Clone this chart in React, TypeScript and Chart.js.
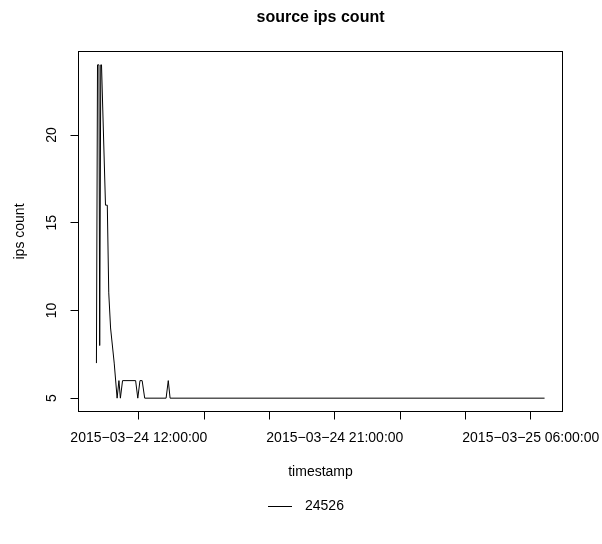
import React, { useEffect, useRef } from 'react';
import { Chart, registerables } from 'chart.js';

Chart.register(...registerables);

// ---- data (minutes since 2015-03-24 00:00:00) ----
const SERIES_LABEL = '24526';
const TIME_MINUTES = [603, 606, 610, 612, 615, 617, 628, 633, 637, 642, 652, 660, 665, 669, 675, 711, 717, 723, 729, 736, 795, 801, 806, 1838];
const IPS_COUNT = [7, 24, 24, 8, 24, 24, 16, 16, 11, 9, 7, 5, 6, 5, 6, 6, 5, 6, 6, 5, 5, 6, 5, 5];
const X_TICKS = [720, 900, 1080, 1260, 1440, 1620, 1800];
const X_TICK_LABELS = ['2015\u221203\u221224 12:00:00', '', '', '2015\u221203\u221224 21:00:00', '', '', '2015\u221203\u221225 06:00:00'];
const Y_TICKS = [5, 10, 15, 20];

const TITLE = 'source ips count';
const X_TITLE = 'timestamp';
const Y_TITLE = 'ips count';

const FONT_FAMILY = '"Liberation Sans", Arial, Helvetica, sans-serif';
const BASE_SIZE = 14;
const LEGEND_START_X = 268;

function padRange(values: number[]) {
  const lo = Math.min(...values);
  const hi = Math.max(...values);
  const p = (hi - lo) * 0.04;
  return { min: lo - p, max: hi + p };
}

export default function App() {
  const ref = useRef<HTMLCanvasElement | null>(null);

  useEffect(() => {
    if (!ref.current) return;
    const xr = padRange(TIME_MINUTES);
    const yr = padRange(IPS_COUNT);

    const legendMark = document.createElement('canvas');
    legendMark.width = 30;
    legendMark.height = 1;
    const lctx = legendMark.getContext('2d');
    if (lctx) {
      lctx.fillStyle = '#000';
      lctx.fillRect(0, 0, 24, 1);
    }

    const font = { family: FONT_FAMILY, size: BASE_SIZE };

    const boxPlugin = {
      id: 'rBox',
      afterLayout(chart: any) {
        const ca = chart.chartArea;
        const tb = chart.titleBlock;
        if (tb) {
          const d = (ca.left + ca.right) / 2 - (tb.left + tb.right) / 2;
          tb.left += d;
          tb.right += d;
        }
        const lg = chart.legend;
        if (lg && lg.lineWidths && lg.lineWidths.length) {
          const pad = lg.options.labels.padding;
          const cur = (lg.left + pad + lg.right - lg.lineWidths[0]) / 2;
          const d = LEGEND_START_X - cur;
          lg.left += d;
          lg.right += d;
        }
      },
      afterDraw(chart: any) {
        const { ctx, chartArea: ca } = chart;
        ctx.save();
        ctx.strokeStyle = '#000';
        ctx.lineWidth = 1;
        ctx.strokeRect(ca.left, ca.top, ca.right - ca.left, ca.bottom - ca.top);
        ctx.restore();
      },
    };

    const chart = new Chart(ref.current, {
      type: 'line',
      data: {
        datasets: [
          {
            label: SERIES_LABEL,
            data: TIME_MINUTES.map((t, i) => ({ x: t, y: IPS_COUNT[i] })),
            borderColor: '#000',
            backgroundColor: '#000',
            borderWidth: 1,
            pointRadius: 0,
            tension: 0,
            fill: false,
          },
        ],
      },
      options: {
        responsive: false,
        animation: false,
        devicePixelRatio: 1,
        events: [],
        layout: { padding: { left: 7.5, right: 39.5, top: 0, bottom: 20.5 } },
        plugins: {
          title: {
            display: true,
            text: TITLE,
            color: '#000',
            font: { family: FONT_FAMILY, size: 16, weight: 'bold' },
            padding: { top: 8.2, bottom: 24.1 },
          },
          legend: {
            display: true,
            position: 'bottom',
            labels: {
              usePointStyle: true,
              pointStyle: legendMark as any,
              pointStyleWidth: 30,
              color: '#000',
              font,
              padding: 10,
            },
          },
          tooltip: { enabled: false },
        },
        scales: {
          x: {
            type: 'linear',
            min: xr.min,
            max: xr.max,
            afterBuildTicks: (s: any) => {
              s.ticks = X_TICKS.map((v) => ({ value: v }));
            },
            afterFit: (s: any) => {
              s.height = 78;
              s.paddingLeft = 0;
              s.paddingRight = 0;
            },
            ticks: {
              autoSkip: false,
              maxRotation: 0,
              minRotation: 0,
              color: '#000',
              font,
              padding: 10.1,
              callback: (v: any) => {
                const i = X_TICKS.indexOf(Number(v));
                return i >= 0 ? X_TICK_LABELS[i] : '';
              },
            },
            grid: { display: true, drawOnChartArea: false, drawTicks: true, tickLength: 8, color: '#000', lineWidth: 1 },
            border: { display: false },
            title: { display: true, text: X_TITLE, color: '#000', font, padding: { top: 0, bottom: 9.1 } },
          },
          y: {
            type: 'linear',
            min: yr.min,
            max: yr.max,
            afterBuildTicks: (s: any) => {
              s.ticks = Y_TICKS.map((v) => ({ value: v }));
            },
            afterFit: (s: any) => {
              s.width = 71;
              s.paddingTop = 0;
              s.paddingBottom = 0;
            },
            ticks: {
              minRotation: 90,
              maxRotation: 90,
              crossAlign: 'center',
              padding: 10.7,
              color: '#000',
              font,
            },
            grid: { display: true, drawOnChartArea: false, drawTicks: true, tickLength: 8, color: '#000', lineWidth: 1 },
            border: { display: false },
            title: { display: true, text: Y_TITLE, color: '#000', font, padding: { top: 4.6, bottom: 0 } },
          },
        },
      } as any,
      plugins: [boxPlugin],
    });

    return () => chart.destroy();
  }, []);

  return (
    <div style={{ position: 'fixed', left: 0, top: 0, width: 602, height: 544, background: '#fff' }}>
      <canvas ref={ref} width={602} height={544} style={{ display: 'block' }} />
    </div>
  );
}
